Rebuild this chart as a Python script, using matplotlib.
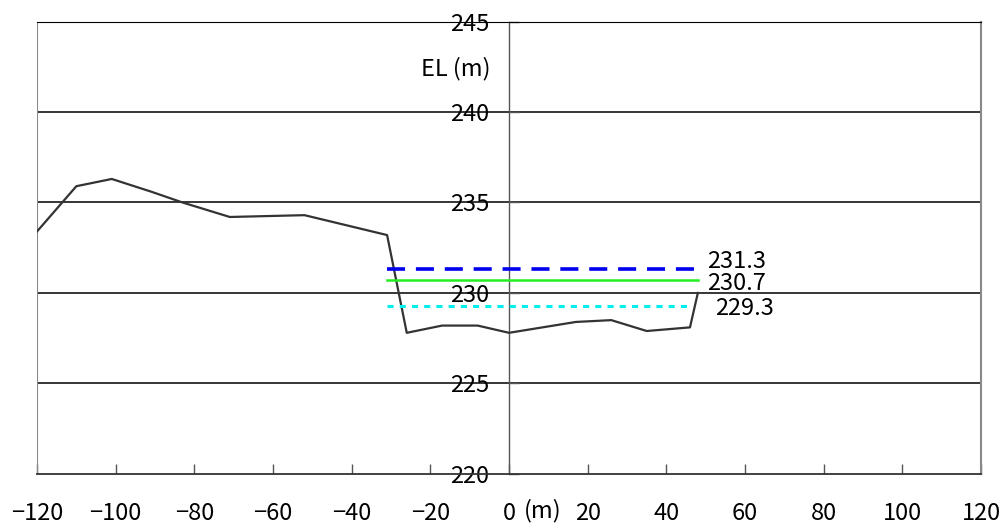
import matplotlib
matplotlib.use('Agg')
import matplotlib.pyplot as plt

plt.rcParams['font.family'] = ['Noto Sans CJK JP', 'DejaVu Sans']

# ground profile (distance m, elevation m)
dist = [-120, -110, -101, -91, -83, -71, -52, -31, -26, -17, -8, 0, 17, 26, 35, 46, 48]
elev = [233.4, 235.9, 236.3, 235.6, 235.0, 234.2, 234.3, 233.2, 227.8, 228.2, 228.2, 227.8, 228.4, 228.5, 227.9, 228.1, 230.0]

# water levels
wl_names = ['231.3', '230.7', '229.3']
wl_values = [231.3, 230.7, 229.3]
wl_start = [-31, -31, -31]
wl_end = [48, 48, 46.5]

xticks = [-120, -100, -80, -60, -40, -20, 0, 20, 40, 60, 80, 100, 120]
yticks = [220, 225, 230, 235, 240, 245]

fs = 17

fig = plt.figure(figsize=(10.06, 5.27), dpi=100)
ax = fig.add_axes([0.0368, 0.1006, 0.9384, 0.8586])

ax.set_xlim(-120, 120)
ax.set_ylim(220, 245)

# horizontal grid
for y in yticks[1:]:
    ax.plot([-120, 120], [y, y], color='black', lw=1.1, zorder=1)

ax.plot(dist, elev, color='#333333', lw=1.6, zorder=3)

ax.plot([wl_start[0], wl_end[0]], [wl_values[0], wl_values[0]], color='#0000ee', lw=2.6, ls=(0, (5, 3)), zorder=4)
ax.plot([wl_start[1], wl_end[1]], [wl_values[1], wl_values[1]], color='#22ee22', lw=1.8, zorder=4)
ax.plot([wl_start[2], wl_end[2]], [wl_values[2], wl_values[2]], color='#00eeee', lw=2.2, ls=(0, (2, 2)), zorder=4)

ax.text(50.3, 231.75, wl_names[0], fontsize=fs, va='center', ha='left')
ax.text(50.3, 230.5, wl_names[1], fontsize=fs, va='center', ha='left')
ax.text(52.4, 229.15, wl_names[2], fontsize=fs, va='center', ha='left')

# spines: left spine moved to x=0, border drawn separately
ax.spines['left'].set_position(('data', 0))
ax.spines['left'].set_color('#555555')
ax.spines['left'].set_linewidth(1.0)
ax.spines['right'].set_color('#888888')
ax.spines['right'].set_linewidth(1.5)
ax.spines['top'].set_color('black')
ax.spines['bottom'].set_color('#333333')
ax.spines['bottom'].set_linewidth(1.3)
ax.axvline(-120, color='#888888', lw=1.5, zorder=2)

ax.set_xticks(xticks)
ax.set_xticklabels([str(v).replace('-', '\u2212') for v in xticks])
ax.set_yticks(yticks)
ax.set_yticklabels([str(v) for v in yticks])
ax.tick_params(axis='x', direction='in', length=7, width=1, color='#555555', pad=20, labelsize=fs)
ax.tick_params(axis='y', direction='in', length=7, width=1, color='#555555', pad=14, labelsize=fs)

ax.text(-4.8, 242.4, 'EL (m)', fontsize=fs, ha='right', va='center')
ax.text(8.6, 217.96, '(m)', fontsize=fs, ha='center', va='center')

fig.savefig('out.png', dpi=100)
